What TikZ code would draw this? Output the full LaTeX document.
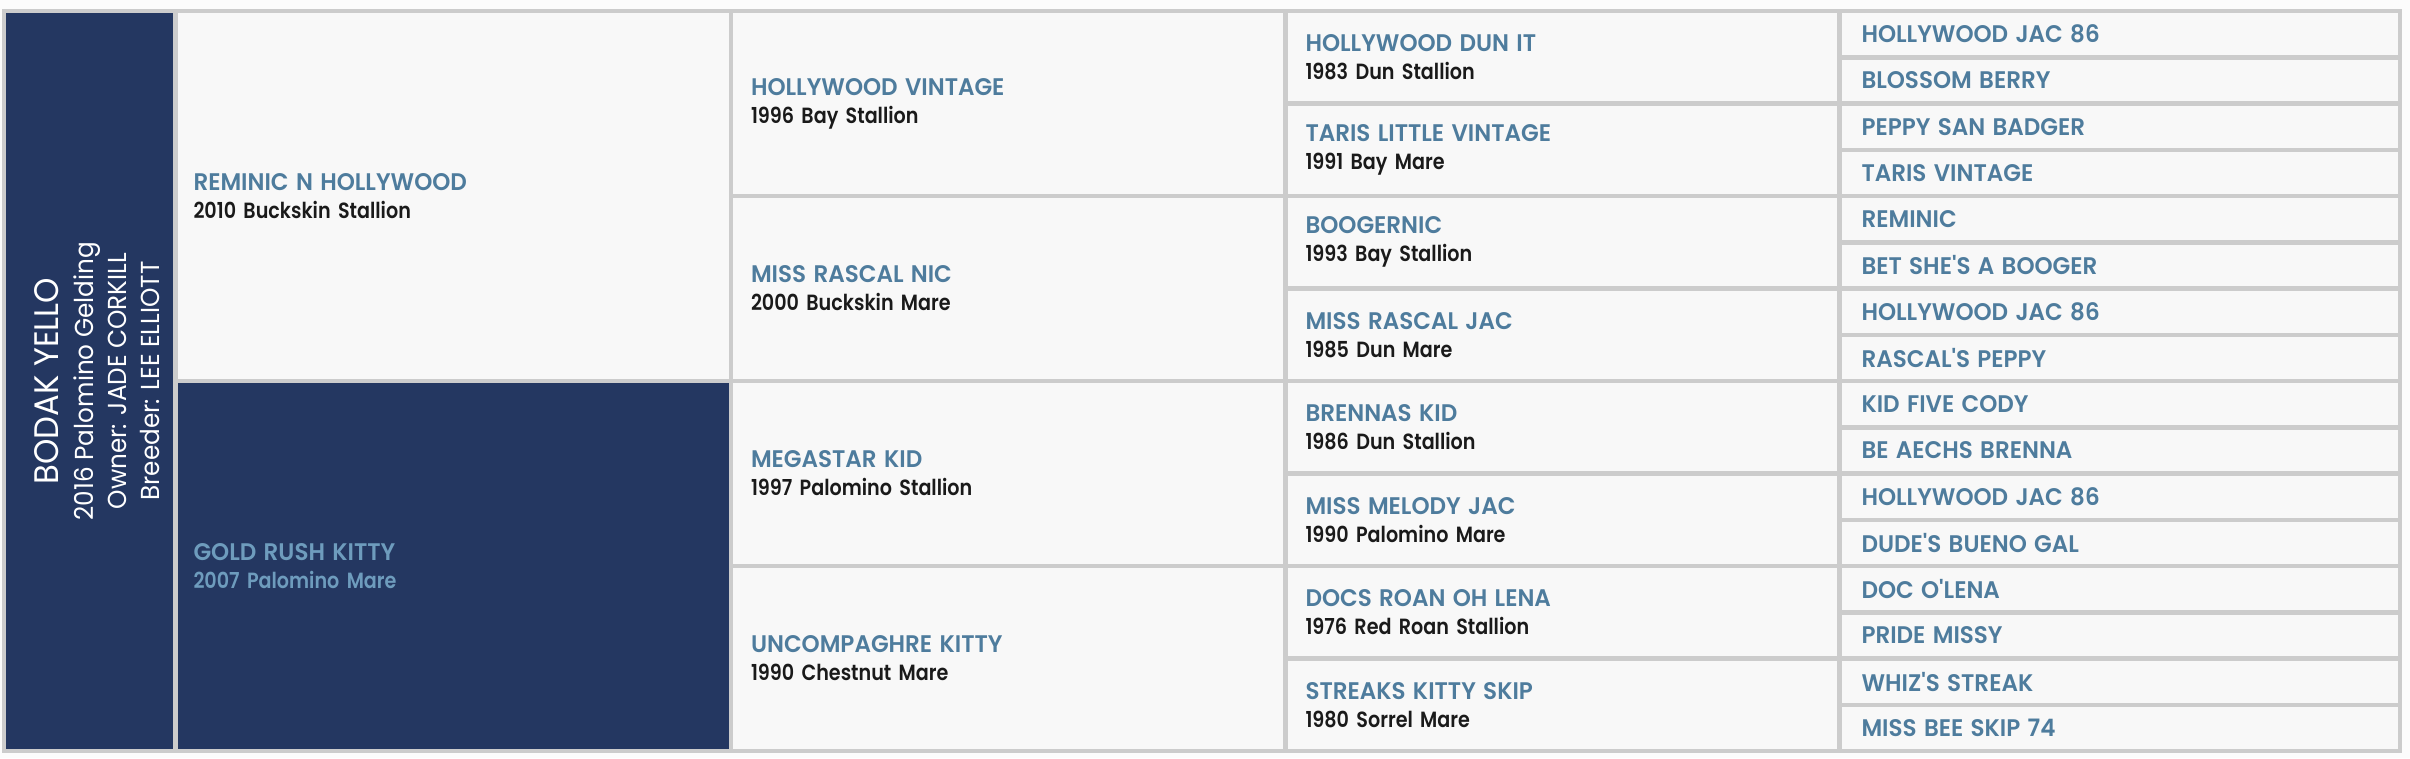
\documentclass[tikz,border=0pt]{standalone}
\usepackage{xcolor}
\usepackage{fontspec}
\usepackage{tikz}
\usetikzlibrary{positioning}
\newfontfamily\namefont{Poppins SemiBold}[FakeStretch=0.96]
\newfontfamily\infofont{Poppins SemiBold}[FakeStretch=0.87]
\newfontfamily\subjfont{Poppins}[FakeStretch=0.95]
\definecolor{navy}{RGB}{36,55,97}
\definecolor{gridgray}{RGB}{204,204,204}
\definecolor{cellbg}{RGB}{248,248,248}
\definecolor{pagebg}{RGB}{252,252,252}
\definecolor{namecol}{RGB}{78,124,157}
\definecolor{damcol}{RGB}{110,156,189}
\definecolor{infocol}{RGB}{26,26,26}
\newcommand{\horse}[2]{{\color{namecol}\namefont\fontsize{24}{28}\selectfont #1}\\{#2}}
\newcommand{\anc}[1]{{\color{namecol}\namefont\fontsize{24}{28}\selectfont #1}}
\tikzset{
    cell/.style={rectangle, draw=gridgray, line width=4.5pt, fill=cellbg, inner ysep=0pt, inner xsep=20pt, align=left, text=infocol, font=\infofont\fontsize{22}{28}\selectfont},
    gen0/.style={rectangle, draw=gridgray, line width=4.5pt, fill=navy, minimum width=171.5pt, minimum height=740pt},
    gen1/.style={cell, inner xsep=18pt, text width=519.5pt, minimum height=370pt},
    gen2/.style={cell, text width=514.5pt, minimum height=185pt},
    gen3/.style={cell, text width=514pt, minimum height=92.5pt},
    gen4/.style={cell, inner xsep=22pt, text width=516.5pt, minimum height=46.25pt},
    damcell/.style={fill=navy, text=damcol, execute at begin node=\colorlet{namecol}{damcol}},
    subject/.style={rotate=90, align=center, text=white, inner sep=0pt, font=\subjfont\fontsize{26}{33}\selectfont}
}
\begin{document}
\begin{tikzpicture}[x=1pt, y=-1pt]
    \fill[pagebg] (0,0) rectangle (2410,758);
    \useasboundingbox (0,0) rectangle (2410,758);

    % Horse
    \node[gen0] (subj) at (89.75,381) {};
    \node[subject] (subjname) at (97.5,381) {{\fontsize{34}{40}\selectfont BODAK YELLO}\\[2pt]2016 Palomino Gelding\\Owner: JADE CORKILL\\Breeder: LEE ELLIOTT};

    % Sire and dam
    \node[gen1] (s) at (453.25,196) {\horse{REMINIC N HOLLYWOOD}{2010 Buckskin Stallion}};
    \node[gen1, damcell] (d) at (453.25,566) {\horse{GOLD RUSH KITTY}{2007 Palomino Mare}};

    % Grandparents
    \node[gen2] (ss) at (1008.25,103.5) {\horse{HOLLYWOOD VINTAGE}{1996 Bay Stallion}};
    \node[gen2] (sd) at (1008.25,288.5) {\horse{MISS RASCAL NIC}{2000 Buckskin Mare}};
    \node[gen2] (ds) at (1008.25,473.5) {\horse{MEGASTAR KID}{1997 Palomino Stallion}};
    \node[gen2] (dd) at (1008.25,658.5) {\horse{UNCOMPAGHRE KITTY}{1990 Chestnut Mare}};

    % Great grandparents
    \node[gen3] (sss) at (1562.5,57.25) {\horse{HOLLYWOOD DUN IT}{1983 Dun Stallion}};
    \node[gen3] (ssd) at (1562.5,149.75) {\horse{TARIS LITTLE VINTAGE}{1991 Bay Mare}};
    \node[gen3] (sds) at (1562.5,242.25) {\horse{BOOGERNIC}{1993 Bay Stallion}};
    \node[gen3] (sdd) at (1562.5,334.75) {\horse{MISS RASCAL JAC}{1985 Dun Mare}};
    \node[gen3] (dss) at (1562.5,427.25) {\horse{BRENNAS KID}{1986 Dun Stallion}};
    \node[gen3] (dsd) at (1562.5,519.75) {\horse{MISS MELODY JAC}{1990 Palomino Mare}};
    \node[gen3] (dds) at (1562.5,612.25) {\horse{DOCS ROAN OH LENA}{1976 Red Roan Stallion}};
    \node[gen3] (ddd) at (1562.5,704.75) {\horse{STREAKS KITTY SKIP}{1980 Sorrel Mare}};

    % Great great grandparents
    \node[gen4] (ssss) at (2119.75,34.125) {\anc{HOLLYWOOD JAC 86}};
    \node[gen4] (sssd) at (2119.75,80.375) {\anc{BLOSSOM BERRY}};
    \node[gen4] (ssds) at (2119.75,126.625) {\anc{PEPPY SAN BADGER}};
    \node[gen4] (ssdd) at (2119.75,172.875) {\anc{TARIS VINTAGE}};
    \node[gen4] (sdss) at (2119.75,219.125) {\anc{REMINIC}};
    \node[gen4] (sdsd) at (2119.75,265.375) {\anc{BET SHE'S A BOOGER}};
    \node[gen4] (sdds) at (2119.75,311.625) {\anc{HOLLYWOOD JAC 86}};
    \node[gen4] (sddd) at (2119.75,357.875) {\anc{RASCAL'S PEPPY}};
    \node[gen4] (dsss) at (2119.75,404.125) {\anc{KID FIVE CODY}};
    \node[gen4] (dssd) at (2119.75,450.375) {\anc{BE AECHS BRENNA}};
    \node[gen4] (dsds) at (2119.75,496.625) {\anc{HOLLYWOOD JAC 86}};
    \node[gen4] (dsdd) at (2119.75,542.875) {\anc{DUDE'S BUENO GAL}};
    \node[gen4] (ddss) at (2119.75,589.125) {\anc{DOC O'LENA}};
    \node[gen4] (ddsd) at (2119.75,635.375) {\anc{PRIDE MISSY}};
    \node[gen4] (ddds) at (2119.75,681.625) {\anc{WHIZ'S STREAK}};
    \node[gen4] (dddd) at (2119.75,727.875) {\anc{MISS BEE SKIP 74}};
\end{tikzpicture}
\end{document}
